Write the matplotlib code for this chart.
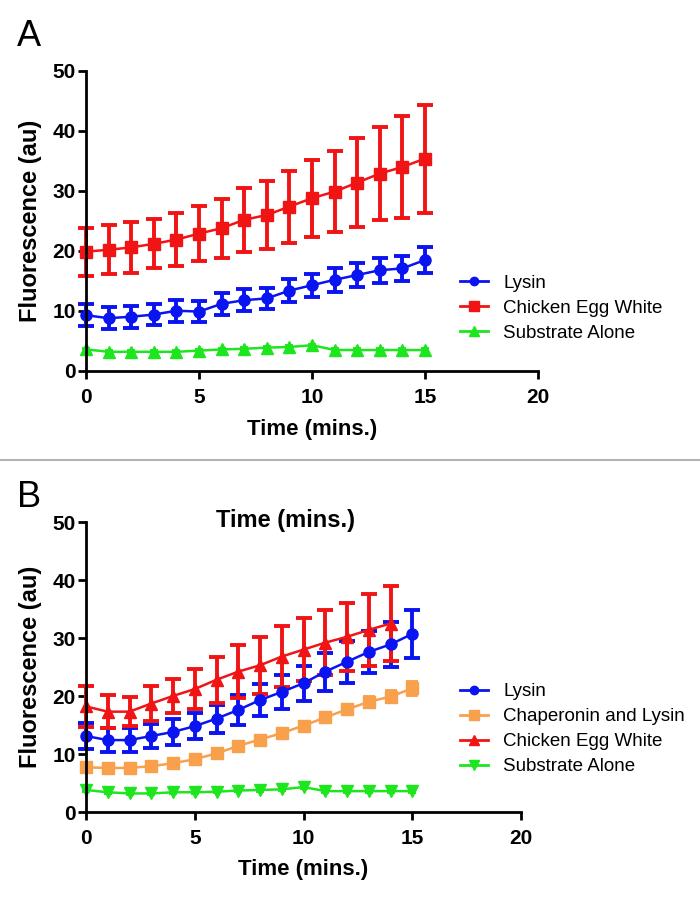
import matplotlib
matplotlib.use("Agg")
import matplotlib.pyplot as plt
from matplotlib.lines import Line2D
import numpy as np

plt.rcParams['font.family'] = ['Liberation Sans', 'DejaVu Sans']

# ---- Data ----
time_a = list(range(16))
lysin_a = [9.3, 8.8, 9.05, 9.4, 10.05, 9.9, 11.2, 11.8, 12.1, 13.4, 14.3, 15.2, 16.0, 16.8, 17.1, 18.5]
lysin_a_err = [1.8, 1.8, 1.8, 1.8, 1.8, 1.8, 1.8, 1.8, 1.8, 1.9, 1.9, 2.0, 2.0, 2.1, 2.1, 2.2]
egg_a = [19.9, 20.2, 20.6, 21.2, 21.9, 22.9, 23.8, 25.2, 26.0, 27.4, 28.8, 29.9, 31.4, 32.9, 34.0, 35.4]
egg_a_err = [4.0, 4.1, 4.2, 4.1, 4.4, 4.6, 4.9, 5.3, 5.6, 6.0, 6.4, 6.8, 7.4, 7.8, 8.5, 9.0]
sub_a = [3.6, 3.2, 3.2, 3.2, 3.2, 3.4, 3.6, 3.7, 3.9, 4.0, 4.3, 3.5, 3.5, 3.5, 3.5, 3.5]
sub_a_err = [0.1] * 16

time_b = list(range(16))
time_b_egg = list(range(15))
lysin_b = [13.1, 12.4, 12.4, 13.1, 13.8, 14.8, 16.1, 17.6, 19.3, 20.7, 22.2, 24.2, 25.9, 27.6, 28.9, 30.7]
lysin_b_err = [2.2, 2.1, 2.1, 2.1, 2.2, 2.2, 2.4, 2.6, 2.8, 2.9, 3.0, 3.3, 3.6, 3.6, 3.9, 4.1]
chap_b = [7.7, 7.6, 7.6, 7.9, 8.4, 9.1, 10.1, 11.4, 12.5, 13.6, 14.9, 16.3, 17.7, 19.0, 19.9, 21.3]
chap_b_err = [0.5, 0.4, 0.4, 0.4, 0.5, 0.5, 0.5, 0.5, 0.6, 0.6, 0.7, 0.7, 0.7, 0.9, 0.9, 1.1]
egg_b = [18.2, 17.3, 17.3, 18.7, 20.0, 21.2, 22.8, 24.2, 25.3, 26.8, 28.0, 29.2, 30.2, 31.4, 32.5]
egg_b_err = [3.5, 2.8, 2.5, 3.0, 3.0, 3.4, 4.0, 4.6, 4.9, 5.2, 5.4, 5.6, 5.9, 6.2, 6.5]
sub_b = [3.8, 3.4, 3.2, 3.2, 3.4, 3.4, 3.5, 3.7, 3.8, 3.9, 4.3, 3.6, 3.6, 3.6, 3.6, 3.6]
sub_b_err = [0.1] * 16

xticks = [0, 5, 10, 15, 20]
yticks = [0, 10, 20, 30, 40, 50]

BLUE = '#0a14f0'
RED = '#f01414'
GREEN = '#1ee61e'
ORANGE = '#f8a04c'

W, H = 700, 898
fig = plt.figure(figsize=(W / 100, H / 100), dpi=100)

def px_axes(left, right, top, bottom):
    return fig.add_axes([left / W, 1 - bottom / H, (right - left) / W, (bottom - top) / H])

def style(ax):
    for s in ['top', 'right']:
        ax.spines[s].set_visible(False)
    for s in ['left', 'bottom']:
        ax.spines[s].set_linewidth(2.0)
    ax.set_xlim(0, 20)
    ax.set_ylim(0, 50)
    ax.set_xticks(xticks)
    ax.set_yticks(yticks)
    ax.tick_params(axis='both', width=2.0, length=6, labelsize=15)
    ax.tick_params(axis='y', pad=1.5)
    ax.tick_params(axis='x', pad=6)
    for lab in ax.get_xticklabels() + ax.get_yticklabels():
        lab.set_fontweight('bold')
    for sp in ax.spines.values():
        sp.set_clip_on(False)

def series(ax, x, y, e, color, marker, ms, cap=5.5):
    ax.errorbar(x, y, yerr=e, color=color, marker=marker, markersize=ms,
                linewidth=1.8, elinewidth=2.8, capsize=cap, capthick=2.8,
                clip_on=False)

# ---- Panel A ----
axA = px_axes(86, 538, 71, 371)
style(axA)
series(axA, time_a, lysin_a, lysin_a_err, BLUE, 'o', 8)
series(axA, time_a, egg_a, egg_a_err, RED, 's', 8.5)
series(axA, time_a, sub_a, sub_a_err, GREEN, '^', 8.5, cap=3)
axA.set_xlabel('Time (mins.)', fontsize=16, fontweight='bold', labelpad=9)
axA.set_ylabel('Fluorescence (au)', fontsize=17, fontweight='bold', labelpad=7)

handlesA = [Line2D([], [], color=BLUE, marker='o', markersize=6, linewidth=2),
            Line2D([], [], color=RED, marker='s', markersize=6.5, linewidth=2),
            Line2D([], [], color=GREEN, marker='^', markersize=6.5, linewidth=2)]
fig.legend(handlesA, ['Lysin', 'Chicken Egg White', 'Substrate Alone'],
           loc='center left', bbox_to_anchor=(460 / W, 1 - 308 / H),
           frameon=False, fontsize=13.5, handlelength=1.5, handletextpad=0.8,
           labelspacing=0.42, borderpad=0, borderaxespad=0)

# ---- Panel B ----
axB = px_axes(86, 521, 522, 812)
style(axB)
series(axB, time_b, lysin_b, lysin_b_err, BLUE, 'o', 8)
series(axB, time_b, chap_b, chap_b_err, ORANGE, 's', 8.5, cap=4)
series(axB, time_b_egg, egg_b, egg_b_err, RED, '^', 8.5)
series(axB, time_b, sub_b, sub_b_err, GREEN, 'v', 8.5, cap=3)
axB.set_xlabel('Time (mins.)', fontsize=16, fontweight='bold', labelpad=8)
axB.set_ylabel('Fluorescence (au)', fontsize=17, fontweight='bold', labelpad=7)
fig.text(285 / W, 1 - 521 / H, 'Time (mins.)', fontsize=17, fontweight='bold',
         ha='center', va='center')

handlesB = [Line2D([], [], color=BLUE, marker='o', markersize=6, linewidth=2),
            Line2D([], [], color=ORANGE, marker='s', markersize=6.5, linewidth=2),
            Line2D([], [], color=RED, marker='^', markersize=6.5, linewidth=2),
            Line2D([], [], color=GREEN, marker='v', markersize=6.5, linewidth=2)]
fig.legend(handlesB, ['Lysin', 'Chaperonin and Lysin', 'Chicken Egg White', 'Substrate Alone'],
           loc='center left', bbox_to_anchor=(460 / W, 1 - 729 / H),
           frameon=False, fontsize=13.5, handlelength=1.5, handletextpad=0.8,
           labelspacing=0.42, borderpad=0, borderaxespad=0)

# ---- Panel letters & separator ----
fig.text(17 / W, 1 - 46 / H, 'A', fontsize=26, ha='left', va='baseline')
fig.text(17 / W, 1 - 507 / H, 'B', fontsize=26, ha='left', va='baseline')
fig.add_artist(Line2D([0, 1], [1 - 460 / H, 1 - 460 / H], color='#b4b4b4',
                      linewidth=1.5, transform=fig.transFigure))

fig.savefig('out.png', dpi=100)
